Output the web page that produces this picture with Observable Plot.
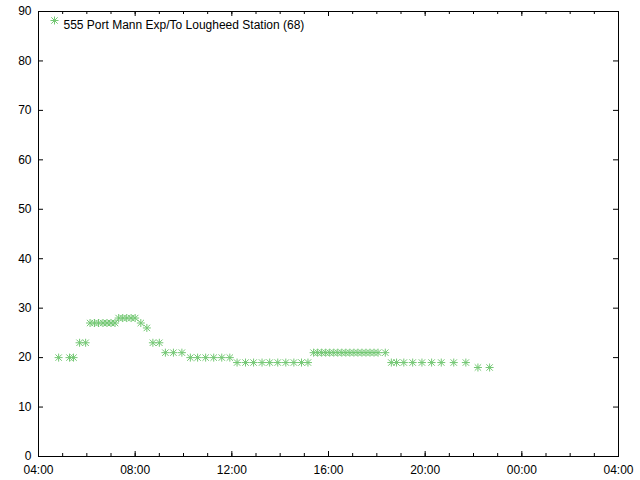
<!DOCTYPE html>
<html><head><meta charset="utf-8">
<script src="https://cdn.jsdelivr.net/npm/d3@7"></script>
<script src="https://cdn.jsdelivr.net/npm/@observablehq/plot@0.6"></script>
<style>body{margin:0;background:#fff} svg{display:block}</style>
</head><body><div id="chart"></div>
<script>
const seriesName = "555 Port Mann Exp/To Lougheed Station (68)";
const times = [
  "04:50","05:17","05:27","05:42","05:57",
  "06:08","06:19","06:29","06:40","06:50","07:00","07:10",
  "07:19","07:29","07:39","07:50","08:00",
  "08:14","08:29","08:44","09:00",
  "09:15","09:35","09:56",
  "10:17","10:35","10:55","11:15","11:35","11:55",
  "12:13","12:34","12:54","13:15","13:34","13:54","14:14","14:34","14:53","15:09",
  "15:23","15:33","15:43","15:53","16:03","16:13","16:23","16:33","16:43","16:53",
  "17:03","17:13","17:23","17:33","17:43","17:53","18:03","18:21",
  "18:36","18:49","19:07","19:29","19:52","20:16","20:40","21:11","21:41",
  "22:11","22:40"
];
const values = [
  20,20,20,23,23,
  27,27,27,27,27,27,27,
  28,28,28,28,28,
  27,26,23,23,
  21,21,21,
  20,20,20,20,20,20,
  19,19,19,19,19,19,19,19,19,19,
  21,21,21,21,21,21,21,21,21,21,
  21,21,21,21,21,21,21,21,
  19,19,19,19,19,19,19,19,19,
  18,18
];
const yTicks = [0,10,20,30,40,50,60,70,80,90];
const xTickLabels = ["04:00","08:00","12:00","16:00","20:00","00:00","04:00"];

function toDate(s, dayOffset) {
  const [h, m] = s.split(":").map(Number);
  return new Date(Date.UTC(2000, 0, 1 + dayOffset, h, m));
}
const data = times.map((t, i) => ({time: toDate(t, t < "04:00" ? 1 : 0), value: values[i]}));
const xStart = toDate("04:00", 0), xEnd = toDate("04:00", 1);
const xMajor = xTickLabels.map((t, i) => toDate(t, i === 0 ? 0 : (t <= "04:00" ? 1 : 0)));
const xMinor = d3.utcHour.range(xStart, new Date(+xEnd + 1));

const W = 640, H = 480, mL = 38, mR = 22, mT = 11, mB = 24;
const FW = W - mL - mR, FH = H - mT - mB;
const color = "#74c874";

const star = {
  draw(ctx, size) {
    const r = Math.sqrt(size / Math.PI);
    const d = r * 0.8;
    ctx.moveTo(-r, 0); ctx.lineTo(r, 0);
    ctx.moveTo(0, -r); ctx.lineTo(0, r);
    ctx.moveTo(-d, -d); ctx.lineTo(d, d);
    ctx.moveTo(-d, d); ctx.lineTo(d, -d);
  }
};

const chart = Plot.plot({
  width: W, height: H,
  marginLeft: mL, marginRight: mR, marginTop: mT, marginBottom: mB,
  style: {fontFamily: "'Liberation Sans', Arial, sans-serif", fontSize: "12px", background: "#fff"},
  x: {type: "utc", domain: [xStart, xEnd]},
  y: {domain: [0, 90]},
  marks: [
    Plot.tickY(yTicks, {insetRight: FW - 5, stroke: "black"}),
    Plot.tickY(yTicks, {insetLeft: FW - 5, stroke: "black"}),
    Plot.tickX(xMinor, {insetTop: FH - 3, stroke: "black"}),
    Plot.tickX(xMinor, {insetBottom: FH - 3, stroke: "black"}),
    Plot.tickX(xMajor, {insetTop: FH - 5, stroke: "black"}),
    Plot.tickX(xMajor, {insetBottom: FH - 5, stroke: "black"}),
    Plot.axisY({ticks: yTicks, tickSize: 0, tickPadding: 7, label: null, fontSize: 12, tickFormat: d => String(d)}),
    Plot.axisX({ticks: xMajor, tickSize: 0, tickPadding: 9, label: null, fontSize: 12, tickFormat: d3.utcFormat("%H:%M")}),
    Plot.frame({stroke: "black"}),
    Plot.dot(data, {x: "time", y: "value", symbol: star, r: 4, stroke: color, strokeWidth: 1, fill: "none"}),
    Plot.dot([seriesName], {frameAnchor: "top-left", dx: 16, dy: 9, symbol: star, r: 4, stroke: color, strokeWidth: 1, fill: "none"}),
    Plot.text([seriesName], {frameAnchor: "top-left", dx: 25, dy: 9, textAnchor: "start", fontSize: 12, fill: "black"})
  ]
});
document.getElementById("chart").appendChild(chart);
</script>
</body></html>
